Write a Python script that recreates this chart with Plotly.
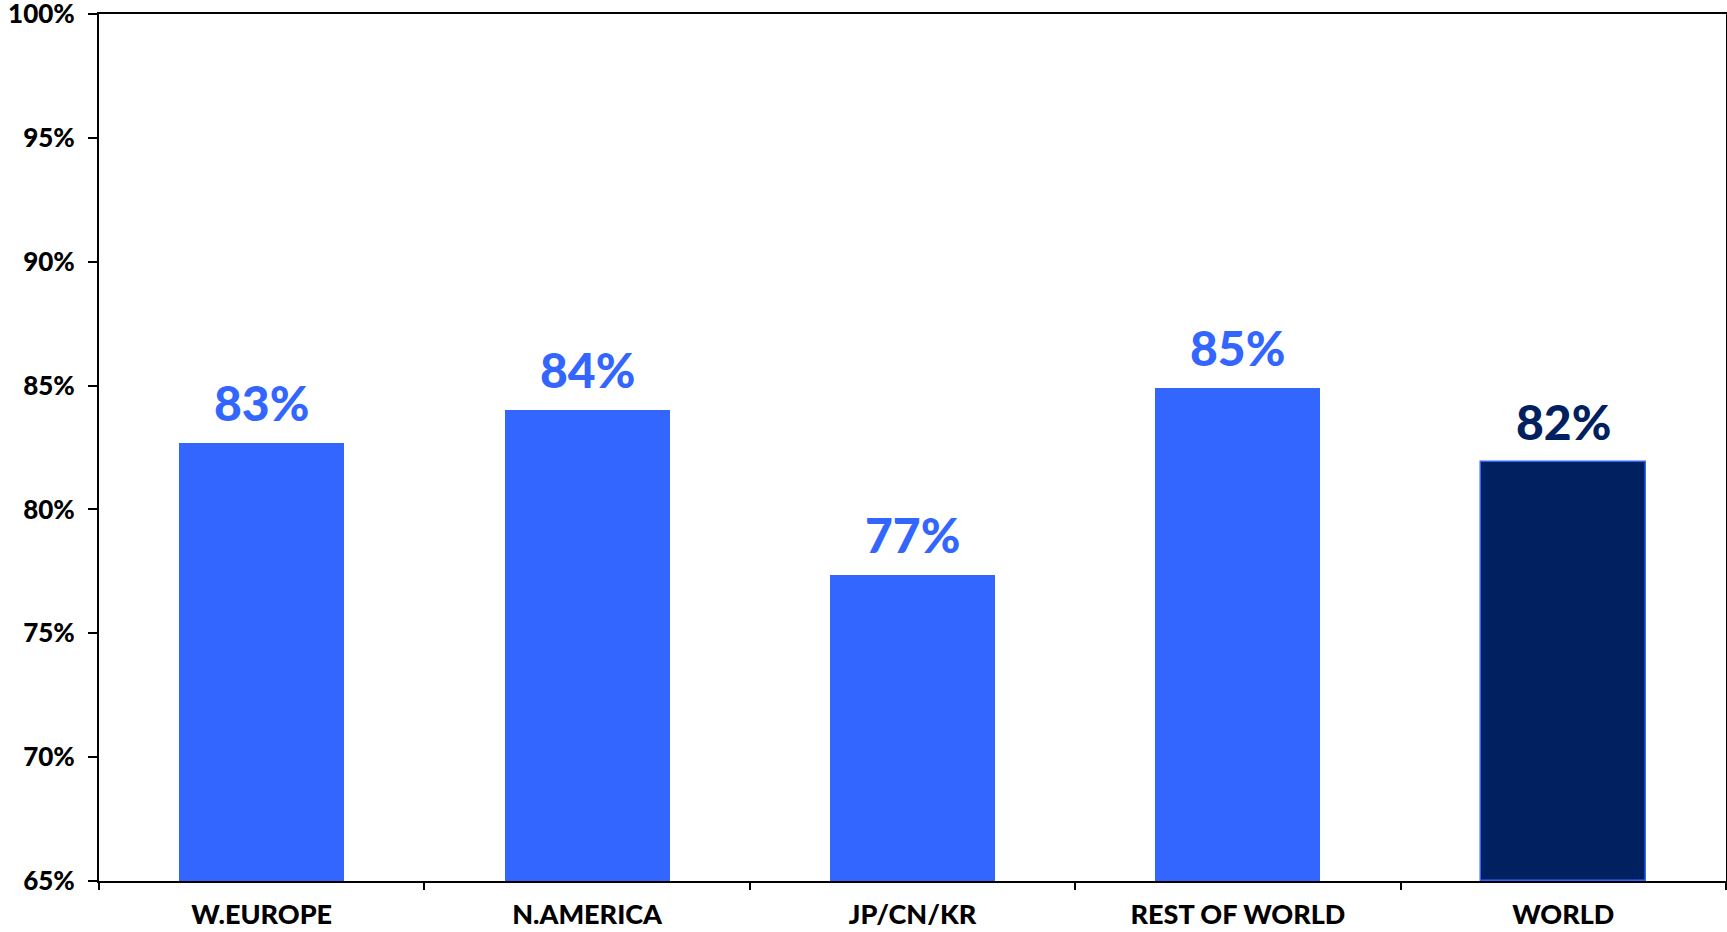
import plotly.graph_objects as go

categories = ["W.EUROPE", "N.AMERICA", "JP/CN/KR", "REST OF WORLD", "WORLD"]
values = [82.7, 84.0, 77.35, 84.9, 81.9]
labels = ["83%", "84%", "77%", "85%", "82%"]
bar_colors = ["#3366FF", "#3366FF", "#3366FF", "#3366FF", "#002060"]
line_colors = ["#3366FF", "#3366FF", "#3366FF", "#3366FF", "#3366FF"]
line_widths = [0, 0, 0, 0, 1.5]
label_colors = ["#3366FF", "#3366FF", "#3366FF", "#3366FF", "#002060"]
y_min = 65
y_ticks = [65, 70, 75, 80, 85, 90, 95, 100]
y_tick_text = ["65%", "70%", "75%", "80%", "85%", "90%", "95%", "100%"]

FONT = "Lato"

fig = go.Figure()
fig.add_trace(go.Bar(
    x=categories, y=[v - y_min for v in values], base=y_min,
    marker=dict(color=bar_colors, line=dict(color=line_colors, width=line_widths)),
    width=0.507,
))

for c, v, t, col in zip(categories, values, labels, label_colors):
    fig.add_annotation(
        x=c, y=v, text=t, showarrow=False, yanchor="bottom", yshift=10,
        font=dict(family=FONT, size=48, color=col, weight=900),
    )

fig.update_layout(
    width=1727, height=932,
    margin=dict(l=99, r=1, t=14, b=51),
    plot_bgcolor="white", paper_bgcolor="white",
    showlegend=False,
    font=dict(family=FONT, color="black", weight="bold"),
    bargap=0,
)
fig.update_xaxes(
    type="category", automargin=False,
    showline=True, linecolor="black", linewidth=2, mirror=True,
    ticks="outside", tickson="boundaries", ticklen=7, tickcolor="black", tickwidth=1.5,
    tickfont=dict(family=FONT, size=27, color="black", weight=900),
    ticklabelstandoff=9,
    showgrid=False,
)
fig.update_yaxes(
    range=[y_min, 100], automargin=False,
    tickvals=y_ticks, ticktext=y_tick_text,
    showline=True, linecolor="black", linewidth=2, mirror=True,
    ticks="outside", ticklen=9, tickcolor="black", tickwidth=1.5,
    tickfont=dict(family=FONT, size=26, color="black", weight=900),
    ticklabelstandoff=8, ticklabeloverflow="allow",
    showgrid=False, zeroline=False,
)
fig.write_html(
    "out.html",
    config={"displayModeBar": False},
    post_script="document.body.style.margin='0';document.body.style.overflow='hidden';",
)
